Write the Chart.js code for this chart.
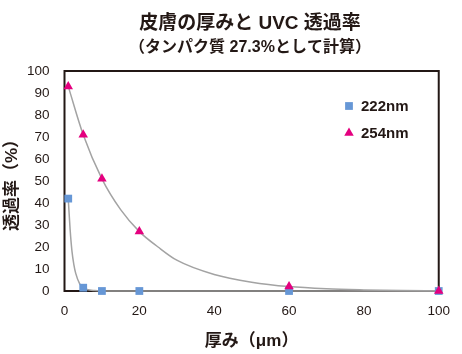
<!DOCTYPE html>
<html>
<head>
<meta charset="utf-8">
<script src="https://cdn.jsdelivr.net/npm/chart.js@4.4.1/dist/chart.umd.min.js"></script>
<style>
  html, body { margin: 0; padding: 0; background: #fff; }
  #wrap { width: 462px; height: 354px; position: relative; }
</style>
</head>
<body>
<div id="wrap"><canvas id="grafico"></canvas></div>
<script>
// datos medidos
const titulo = '皮膚の厚みと UVC 透過率';
const subtitulo = '（タンパク質 27.3%として計算）';
const espesor = [1, 5, 10, 20, 60, 100];
const trans222 = [42, 1.5, 0, 0, 0, 0];
const trans254 = [93, 71, 51, 27, 2, 0];
// curvas de tendencia
const curva222X = [1, 1.5, 2, 2.5, 3, 4, 5, 6, 8, 10, 20, 60, 100];
const curva222Y = [42, 28, 18, 12, 8, 3.5, 1.5, 0.7, 0.2, 0.05, 0, 0, 0];
const curva254X = [1, 5, 10, 15, 20, 25, 30, 40, 50, 60, 70, 80, 90, 100];
const curva254Y = [93, 71, 51, 37, 27, 20, 14, 7.5, 4, 2, 1, 0.5, 0.2, 0.1];
const ticksX = [0, 20, 40, 60, 80, 100];

const oscuro = '#231815';
const fuente = "'Liberation Sans', 'Noto Sans CJK JP', sans-serif";

function puntos(xs, ys) {
  return xs.map((x, i) => ({ x: x, y: ys[i] }));
}

// marco, titulos y leyenda
const extras = {
  id: 'extras',
  beforeDatasetsDraw(chart) {
    const a = chart.chartArea;
    const ctx = chart.ctx;
    ctx.save();
    ctx.strokeStyle = oscuro;
    ctx.lineWidth = 2;
    ctx.strokeRect(a.left, a.top, a.right - a.left, a.bottom - a.top);
    ctx.restore();
  },
  afterDraw(chart) {
    const ctx = chart.ctx;
    ctx.save();
    ctx.fillStyle = oscuro;
    ctx.textAlign = 'center';
    ctx.textBaseline = 'middle';
    ctx.font = 'bold 19px ' + fuente;
    ctx.fillText(titulo, 250, 24);
    ctx.font = 'bold 16px ' + fuente;
    ctx.fillText(subtitulo, 250, 48);

    // leyenda
    const items = chart.data.datasets.filter(d => d.enLeyenda);
    items.forEach((d, i) => {
      const y = 106 + i * 27;
      ctx.fillStyle = d.backgroundColor;
      Chart.helpers.drawPoint(ctx, {
        pointStyle: d.pointStyle, radius: 5.5, rotation: 0, borderWidth: 0
      }, 349, y);
      ctx.fillStyle = oscuro;
      ctx.textAlign = 'left';
      ctx.font = 'bold 15px ' + fuente;
      ctx.fillText(d.label, 361, y + 1);
    });
    ctx.restore();
  }
};

new Chart(document.getElementById('grafico'), {
  type: 'scatter',
  data: {
    datasets: [
      {
        label: 'tendencia 222',
        data: puntos(curva222X, curva222Y),
        showLine: true,
        cubicInterpolationMode: 'monotone',
        borderColor: '#a3a3a3',
        borderWidth: 1.5,
        pointRadius: 0,
        clip: false,
        order: 3
      },
      {
        label: 'tendencia 254',
        data: puntos(curva254X, curva254Y),
        showLine: true,
        cubicInterpolationMode: 'monotone',
        borderColor: '#a3a3a3',
        borderWidth: 1.5,
        pointRadius: 0,
        clip: false,
        order: 3
      },
      {
        label: '222nm',
        enLeyenda: true,
        data: puntos(espesor, trans222),
        pointStyle: 'rect',
        pointRadius: 5.5,
        backgroundColor: '#6697d6',
        borderColor: '#6697d6',
        borderWidth: 0,
        clip: false,
        order: 2
      },
      {
        label: '254nm',
        enLeyenda: true,
        data: puntos(espesor, trans254),
        pointStyle: 'triangle',
        pointRadius: 5.5,
        backgroundColor: '#e4007f',
        borderColor: '#e4007f',
        borderWidth: 0,
        clip: false,
        order: 1
      }
    ]
  },
  options: {
    responsive: true,
    maintainAspectRatio: false,
    animation: false,
    layout: { padding: { top: 71, right: 16, left: 0, bottom: 0 } },
    plugins: {
      legend: { display: false },
      tooltip: { enabled: false }
    },
    scales: {
      x: {
        type: 'linear',
        min: 0,
        max: 100,
        afterBuildTicks: s => { s.ticks = ticksX.map(v => ({ value: v })); },
        grid: { display: false, drawTicks: false },
        border: { display: false },
        ticks: { color: oscuro, font: { family: fuente, size: 13.5 }, padding: 12, maxRotation: 0 },
        title: {
          display: true,
          text: '厚み（μm）',
          color: oscuro,
          font: { family: fuente, size: 17, weight: 'bold' },
          padding: { top: 0, bottom: 2 }
        },
        afterFit: s => { s.height = 63; }
      },
      y: {
        min: 0,
        max: 100,
        ticks: { stepSize: 10, color: oscuro, font: { family: fuente, size: 13.5 }, padding: 15 },
        grid: { display: false, drawTicks: false },
        border: { display: false },
        title: {
          display: true,
          text: '透過率（%）',
          color: oscuro,
          font: { family: fuente, size: 17, weight: 'bold' },
          padding: { top: 2, bottom: 0 }
        },
        afterFit: s => { s.width = 64.5; }
      }
    }
  },
  plugins: [extras]
});
</script>
</body>
</html>
